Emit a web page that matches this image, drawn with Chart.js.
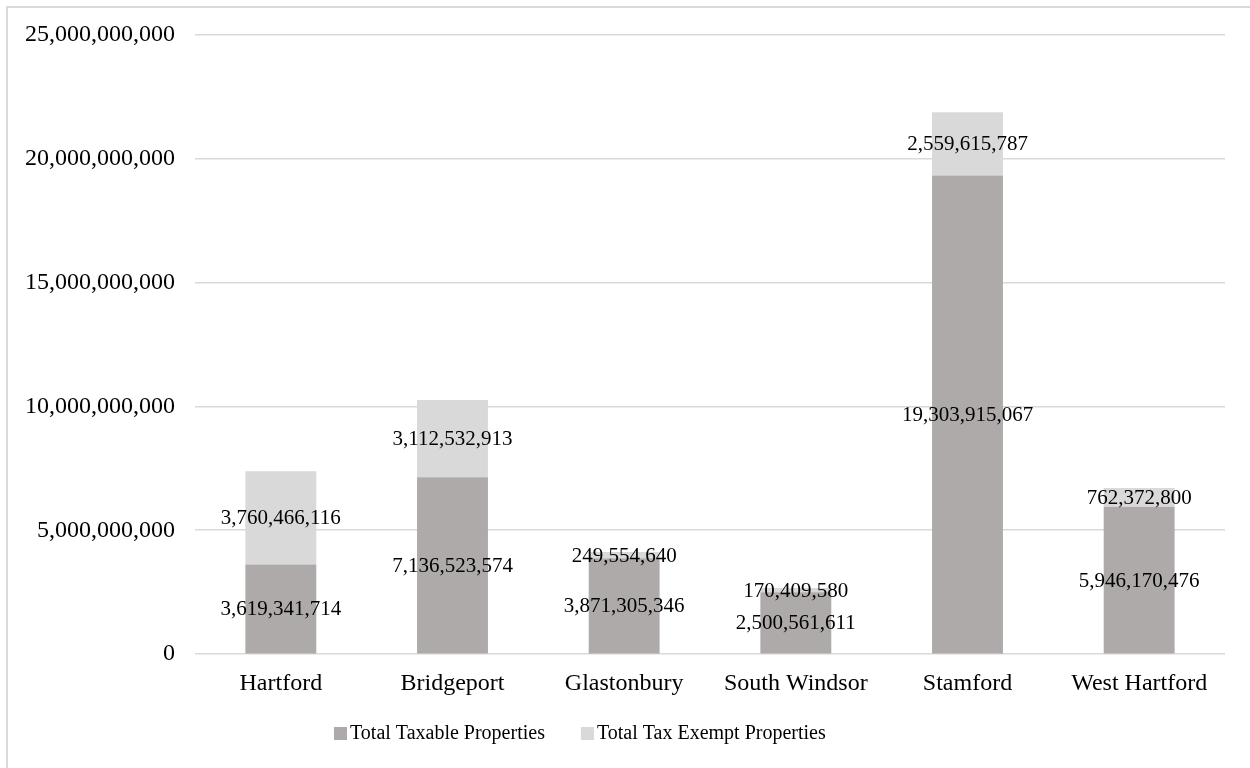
<!DOCTYPE html>
<html>
<head>
<meta charset="utf-8">
<script src="https://cdn.jsdelivr.net/npm/chart.js@4/dist/chart.umd.min.js"></script>
<style>
  html, body { margin: 0; padding: 0; background: #fff; }
  #wrap { position: relative; width: 1250px; height: 768px; overflow: hidden; }
  #frame { position: absolute; left: 6px; top: 6px; width: 1260px; height: 780px; border: 2px solid #d9d9d9; box-sizing: border-box; }
  #taxChart { position: absolute; left: 0; top: 0; }
</style>
</head>
<body>
<div id="wrap">
  <div id="frame"></div>
  <canvas id="taxChart" width="1250" height="768"></canvas>
</div>
<script>
const towns = ['Hartford', 'Bridgeport', 'Glastonbury', 'South Windsor', 'Stamford', 'West Hartford'];
const taxable = [3619341714, 7136523574, 3871305346, 2500561611, 19303915067, 5946170476];
const exempt = [3760466116, 3112532913, 249554640, 170409580, 2559615787, 762372800];
const seriesNames = ['Total Taxable Properties', 'Total Tax Exempt Properties'];

const serif = '"Liberation Serif", "Times New Roman", serif';

// labels in the middle of each stacked piece
const centerLabels = {
    id: 'centerLabels',
    afterDatasetsDraw(chart) {
        const ctx = chart.ctx;
        ctx.save();
        ctx.font = '21px ' + serif;
        ctx.fillStyle = '#000';
        ctx.textAlign = 'center';
        ctx.textBaseline = 'middle';
        chart.data.datasets.forEach((ds, i) => {
            chart.getDatasetMeta(i).data.forEach((bar, j) => {
                const mid = (bar.y + bar.base) / 2;
                ctx.fillText(ds.data[j].toLocaleString('en-US'), bar.x, mid + 1);
            });
        });
        ctx.restore();
    }
};

// excel-like legend: small square hugging the text
const bottomLegend = {
    id: 'bottomLegend',
    afterDraw(chart) {
        const ctx = chart.ctx;
        ctx.save();
        ctx.font = '20px ' + serif;
        ctx.textBaseline = 'middle';
        ctx.textAlign = 'left';
        let x = 334;
        const y = 734;
        chart.data.datasets.forEach(ds => {
            ctx.fillStyle = ds.backgroundColor;
            ctx.fillRect(x, y - 7, 13, 13);
            ctx.fillStyle = '#000';
            ctx.fillText(ds.label, x + 16, y);
            x += 16 + ctx.measureText(ds.label).width + 36;
        });
        ctx.restore();
    }
};

const ctx = document.getElementById('taxChart').getContext('2d');
new Chart(ctx, {
    type: 'bar',
    data: {
        labels: towns,
        datasets: [
            { label: seriesNames[0], data: taxable, backgroundColor: '#aeaaaa' },
            { label: seriesNames[1], data: exempt, backgroundColor: '#d9d9d9' }
        ]
    },
    options: {
        responsive: false,
        animation: false,
        layout: { padding: { top: 25, right: 25, bottom: 63, left: 0 } },
        datasets: { bar: { categoryPercentage: 1, barPercentage: 0.413 } },
        scales: {
            x: {
                stacked: true,
                grid: { display: false },
                border: { display: false },
                ticks: { color: '#000', font: { family: serif, size: 24 }, padding: 7 }
            },
            y: {
                stacked: true,
                min: 0,
                max: 25000000000,
                afterFit(scale) { scale.width = 195; },
                grid: { color: '#d9d9d9', lineWidth: 1.5, drawTicks: false },
                border: { display: false },
                ticks: {
                    stepSize: 5000000000,
                    padding: 20,
                    color: '#000',
                    font: { family: serif, size: 24 },
                    callback: v => v.toLocaleString('en-US')
                }
            }
        },
        plugins: {
            legend: { display: false },
            tooltip: { enabled: false }
        }
    },
    plugins: [centerLabels, bottomLegend]
});
</script>
</body>
</html>
